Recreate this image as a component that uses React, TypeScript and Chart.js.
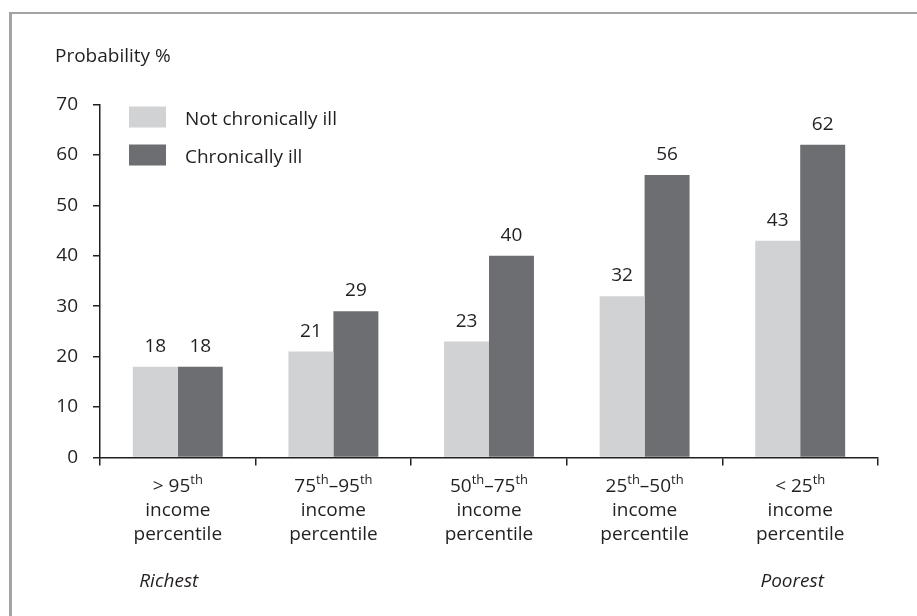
import React, { useEffect, useRef } from "react";
import { Chart, registerables } from "chart.js";

Chart.register(...registerables);

// ---- data ----
const categories = [
  "> 95th income percentile",
  "75th–95th income percentile",
  "50th–75th income percentile",
  "25th–50th income percentile",
  "< 25th income percentile",
];
// first label line, odd-index parts are superscripts
const labelLine1: string[][] = [
  ["> 95", "th"],
  ["75", "th", "–95", "th"],
  ["50", "th", "–75", "th"],
  ["25", "th", "–50", "th"],
  ["< 25", "th"],
];
const labelLine2 = "income";
const labelLine3 = "percentile";
const seriesNames = ["Not chronically ill", "Chronically ill"];
const notChronicallyIll = [18, 21, 23, 32, 43];
const chronicallyIll = [18, 29, 40, 56, 62];
const yMin = 0;
const yMax = 70;
const yStep = 10;
const yTitle = "Probability %";
const endNotes = ["Richest", "Poorest"];

// ---- styles ----
const FONT = "'Open Sans', 'Noto Sans', sans-serif";
const TEXT = "#231f20";
const LIGHT = "#d1d2d4";
const DARK = "#6d6e71";
const FS = 19;

const overlayPlugin = {
  id: "overlay",
  afterDraw(chart: any) {
    const ctx = chart.ctx;
    const xs = chart.scales.x;
    const area = chart.chartArea;
    ctx.save();
    ctx.fillStyle = TEXT;

    // value labels
    ctx.font = `${FS}px ${FONT}`;
    ctx.textAlign = "center";
    ctx.textBaseline = "alphabetic";
    chart.data.datasets.forEach((ds: any, di: number) => {
      const meta = chart.getDatasetMeta(di);
      meta.data.forEach((el: any, i: number) => {
        ctx.fillText(String(ds.data[i]), el.x, el.y - 15);
      });
    });

    // x labels with superscripts
    const normal = `${FS}px ${FONT}`;
    const sup = `13px ${FONT}`;
    const base1 = area.bottom + 34.5;
    labelLine1.forEach((parts, i) => {
      const cx = xs.getPixelForValue(i);
      let total = 0;
      parts.forEach((p, k) => {
        ctx.font = k % 2 ? sup : normal;
        total += ctx.measureText(p).width;
      });
      let x = cx - total / 2;
      ctx.textAlign = "left";
      parts.forEach((p, k) => {
        ctx.font = k % 2 ? sup : normal;
        ctx.fillText(p, x, k % 2 ? base1 - 8.5 : base1);
        x += ctx.measureText(p).width;
      });
      ctx.font = normal;
      ctx.textAlign = "center";
      ctx.fillText(labelLine2, cx, base1 + 24);
      ctx.fillText(labelLine3, cx, base1 + 48);
    });

    // Richest / Poorest
    ctx.font = `italic ${FS}px ${FONT}`;
    ctx.textAlign = "center";
    ctx.fillText(endNotes[0], xs.getPixelForValue(0) - 9, area.bottom + 129);
    ctx.fillText(endNotes[1], xs.getPixelForValue(categories.length - 1) - 8, area.bottom + 129);

    // y title
    ctx.font = `${FS}px ${FONT}`;
    ctx.textAlign = "left";
    ctx.fillText(yTitle, 55, area.top - 43);

    // legend
    chart.data.datasets.forEach((ds: any, di: number) => {
      const top = area.top + 2 + di * 38;
      ctx.fillStyle = ds.backgroundColor;
      ctx.fillRect(area.left + 29, top, 37, 21);
      ctx.fillStyle = TEXT;
      ctx.font = `${FS}px ${FONT}`;
      ctx.textAlign = "left";
      ctx.fillText(ds.label, area.left + 85, top + 18);
    });
    ctx.restore();
  },
};

export default function App() {
  const ref = useRef<HTMLCanvasElement>(null);
  useEffect(() => {
    if (!ref.current) return;
    const chart = new Chart(ref.current, {
      type: "bar",
      data: {
        labels: categories,
        datasets: [
          {
            label: seriesNames[0],
            data: notChronicallyIll,
            backgroundColor: LIGHT,
            categoryPercentage: 0.578,
            barPercentage: 1,
          },
          {
            label: seriesNames[1],
            data: chronicallyIll,
            backgroundColor: DARK,
            categoryPercentage: 0.578,
            barPercentage: 1,
          },
        ],
      },
      options: {
        responsive: false,
        animation: false,
        devicePixelRatio: 1,
        layout: { padding: { top: 104.5, right: 39, bottom: 0, left: 0 } },
        plugins: {
          legend: { display: false },
          tooltip: { enabled: false },
          title: { display: false },
        },
        scales: {
          x: {
            ticks: { display: false },
            grid: {
              display: true,
              offset: true,
              drawOnChartArea: false,
              drawTicks: true,
              tickLength: 8,
              color: TEXT,
              lineWidth: 1.5,
            },
            border: { display: true, color: TEXT, width: 1.5 },
            afterFit: (s: any) => {
              s.height = 616 - 457.5;
            },
          },
          y: {
            min: yMin,
            max: yMax,
            ticks: {
              stepSize: yStep,
              color: TEXT,
              font: { family: FONT, size: FS },
              padding: 15,
            },
            grid: {
              display: true,
              drawOnChartArea: false,
              drawTicks: true,
              tickLength: 7,
              color: TEXT,
              lineWidth: 1.5,
            },
            border: { display: true, color: TEXT, width: 1.5 },
            afterFit: (s: any) => {
              s.width = 100;
            },
          },
        },
      },
      plugins: [overlayPlugin],
    });
    return () => chart.destroy();
  }, []);

  return (
    <div style={{ position: "fixed", left: 0, top: 0, width: 917, height: 616, background: "#fff", overflow: "hidden" }}>
      <div
        style={{
          position: "absolute",
          left: 9,
          top: 12,
          width: 2000,
          height: 2000,
          borderTop: "2px solid #a3a3a3",
          borderLeft: "3px solid #a3a3a3",
        }}
      />
      <canvas ref={ref} width={917} height={616} style={{ position: "absolute", left: 0, top: 0 }} />
    </div>
  );
}
